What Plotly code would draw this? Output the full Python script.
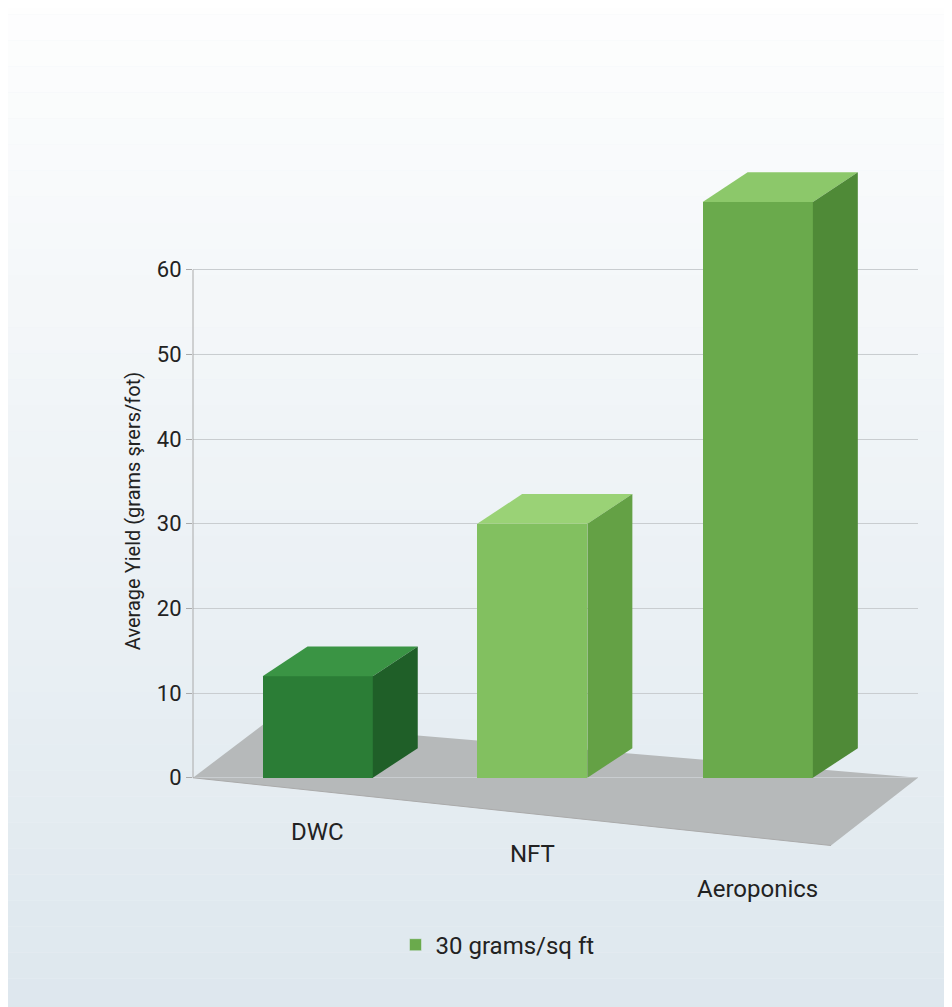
import plotly.graph_objects as go

categories = ["DWC", "NFT", "Aeroponics"]
values = [12, 30, 68]
centers = [1.72, 4.68, 7.79]
label_y_px = [840, 862, 897]
front_colors = ["#2b7d36", "#82c060", "#6aaa4c"]
top_colors = ["#3a9444", "#9ad276", "#8cc86a"]
side_colors = ["#1f5f28", "#64a145", "#4f8a37"]
yticks = [0, 10, 20, 30, 40, 50, 60]
legend_label = "30 grams/sq ft"

W = 1.52
DX, DY = 0.62, 3.5
YMIN, YMAX = -9, 72
TOP, BOT = 160, 846

fig = go.Figure()
fig.add_trace(go.Bar(x=centers, y=values, width=W, marker=dict(color=front_colors, line=dict(width=0)),
                     showlegend=False, hoverinfo="y"))
fig.add_trace(go.Bar(x=[None], y=[None], name=legend_label, marker_color="#6aaa4c"))

shapes = []
n = 50
for i in range(n):
    t = i / (n - 1)
    r = int(255 + (214 - 255) * t); g = int(255 + (226 - 255) * t); b = int(255 + (234 - 255) * t)
    shapes.append(dict(type="rect", xref="paper", yref="paper", x0=-0.5, x1=1.5,
                       y0=1.3 - (i + 1) * 1.9 / n, y1=1.3 - i * 1.9 / n,
                       fillcolor=f"rgb({r},{g},{b})", line_width=0, layer="below"))
# floor
shapes.append(dict(type="path", xref="x", yref="y", layer="below",
                   path="M 0 0 L 1.0 6.5 L 10 0 L 8.8 -8 Z",
                   fillcolor="#b6b9ba", line_width=0))
for c, v, tc, sc in zip(centers, values, top_colors, side_colors):
    x0, x1 = c - W / 2, c + W / 2
    shapes.append(dict(type="path", xref="x", yref="y",
                       path=f"M {x0} {v} L {x0+DX} {v+DY} L {x1+DX} {v+DY} L {x1} {v} Z",
                       fillcolor=tc, line_width=0))
    shapes.append(dict(type="path", xref="x", yref="y",
                       path=f"M {x1} 0 L {x1} {v} L {x1+DX} {v+DY} L {x1+DX} {DY} Z",
                       fillcolor=sc, line_width=0))
shapes.append(dict(type="line", xref="paper", yref="y", x0=0, x1=0, y0=0, y1=60,
                   line=dict(color="#aaaaaa", width=1)))
shapes.append(dict(type="line", xref="x", yref="y", x0=0, x1=8.8, y0=0, y1=-8,
                   line=dict(color="#aaaaaa", width=1)))

annotations = [dict(x=c, y=(BOT - py) / (BOT - TOP), xref="x", yref="paper", text=cat,
                    showarrow=False, font=dict(size=24, color="#222"))
               for c, cat, py in zip(centers, categories, label_y_px)]

fig.update_layout(
    width=952, height=1007,
    margin=dict(l=185, r=42, t=TOP, b=1007 - BOT),
    paper_bgcolor="#eef3f6", plot_bgcolor="rgba(0,0,0,0)",
    font=dict(family="Roboto, Arial", color="#222"),
    shapes=shapes, annotations=annotations,
    xaxis=dict(range=[0, 10], showticklabels=False, showgrid=False, zeroline=False),
    yaxis=dict(range=[YMIN, YMAX], tickvals=yticks, tickfont=dict(size=22),
               gridcolor="#c9cdd0", zeroline=False, ticks="outside", ticklen=6, tickcolor="#aaa",
               title=dict(text="Average Yield (grams şrers/fot)", font=dict(size=20), standoff=10)),
    legend=dict(orientation="h", x=0.42, y=-0.1, xanchor="center", yanchor="top", font=dict(size=24),
                bgcolor="rgba(0,0,0,0)"),
    bargap=0,
)
fig.write_html("out.html")
